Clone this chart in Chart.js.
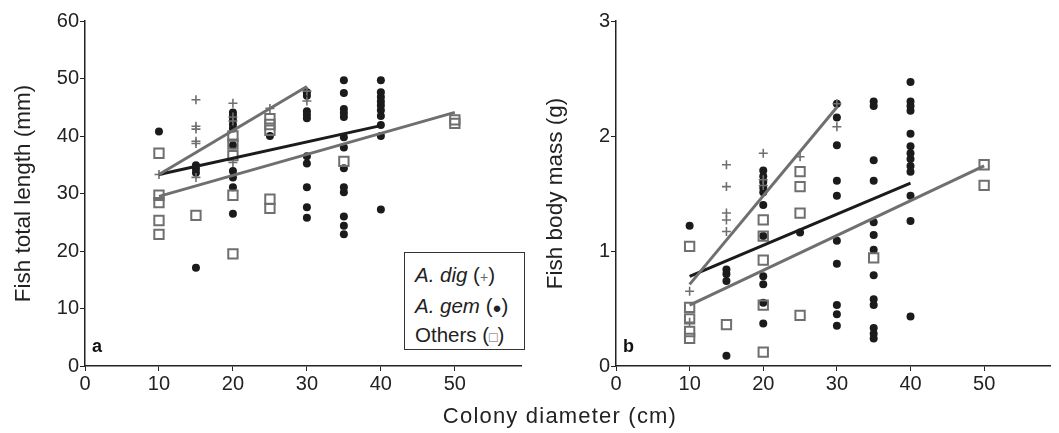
<!DOCTYPE html>
<html>
<head>
<meta charset="utf-8">
<script src="https://cdn.jsdelivr.net/npm/chart.js@4.4.1/dist/chart.umd.min.js"></script>
<style>
  body { margin: 0; background: #fff; font-family: "Liberation Sans", Arial, sans-serif; }
  #wrap { position: relative; width: 1059px; height: 433px; }
  #ca { position: absolute; left: 0; top: 0; }
  #cb { position: absolute; left: 530px; top: 0; }
  #xtitle { position: absolute; left: 360px; width: 400px; top: 403px; text-align: center; font-size: 22px; letter-spacing: 1.2px; color: #222; }
  #legend { position: absolute; left: 404px; top: 252px; width: 121px; height: 98px; border: 1px solid #333; background: #fff;
            font-size: 20.5px; color: #222; line-height: 27.5px; padding-top: 8px; box-sizing: border-box; padding-left: 10px; white-space: nowrap; }
  #legend .s { font-size: 14px; color: #666; }
</style>
</head>
<body>
<div id="wrap">
  <canvas id="ca" width="530" height="433"></canvas>
  <canvas id="cb" width="529" height="433"></canvas>
  <div id="xtitle">Colony diameter (cm)</div>
  <div id="legend">
    <div><i>A. dig</i> (<span class="s">+</span>)</div>
    <div><i>A. gem</i> (<span style="font-size:15px">●</span>)</div>
    <div>Others (<span class="s">□</span>)</div>
  </div>
</div>
<script>
// panel a: fish total length (mm)
const digLenX = [10, 15, 15, 15, 15, 15, 15, 20, 20, 20, 20, 25, 30, 30];
const digLenY = [33.3, 46.3, 41.7, 41.2, 39.1, 38.7, 32.8, 45.7, 43.3, 42.6, 35.4, 44.8, 47.8, 46.1];
const gemLenX = [10, 15, 15, 15, 15,
  20, 20, 20, 20, 20, 20, 20, 20, 20, 20, 25,
  30, 30, 30, 30, 30, 30, 30, 30, 30, 30,
  35, 35, 35, 35, 35, 35, 35, 35, 35, 35, 35, 35, 35,
  40, 40, 40, 40, 40, 40, 40, 40, 40, 40];
const gemLenY = [40.8, 34.9, 34.3, 33.6, 17.1,
  44.1, 43.5, 42.8, 42.0, 41.3, 38.4, 33.9, 32.8, 31.1, 26.5, 40.0,
  47.6, 47.0, 44.3, 43.7, 43.1, 36.5, 35.2, 31.1, 27.6, 25.8,
  49.7, 47.5, 44.7, 44.0, 43.3, 39.8, 38.0, 34.4, 31.1, 30.2, 26.0, 24.4, 22.9,
  49.7, 47.6, 46.8, 46.0, 45.3, 44.5, 43.5, 41.9, 40.0, 27.2];
const othLenX = [10, 10, 10, 10, 10, 15, 20, 20, 20, 20, 20, 25, 25, 25, 25, 25, 35, 50, 50];
const othLenY = [37.0, 29.7, 28.4, 25.3, 22.9, 26.2, 40.0, 38.6, 36.6, 29.7, 19.5, 43.0, 42.0, 41.0, 29.0, 27.4, 35.6, 42.8, 42.2];
const fitLenX = { dig: [10, 30], gem: [10, 40], oth: [10, 50] };
const fitLenY = { dig: [33.3, 48.6], gem: [33.3, 41.8], oth: [29.5, 44.1] };

// panel b: fish body mass (g)
const digMassX = [10, 10, 15, 15, 15, 15, 15, 20, 20, 20, 25, 30, 30];
const digMassY = [0.65, 0.38, 1.75, 1.56, 1.33, 1.27, 1.17, 1.85, 1.62, 1.57, 1.82, 2.28, 2.08];
const gemMassX = [10, 15, 15, 15, 15,
  20, 20, 20, 20, 20, 20, 20, 20, 20, 20, 20, 25,
  30, 30, 30, 30, 30, 30, 30, 30, 30, 30,
  35, 35, 35, 35, 35, 35, 35, 35, 35, 35, 35, 35, 35,
  40, 40, 40, 40, 40, 40, 40, 40, 40, 40, 40, 40, 40];
const gemMassY = [1.22, 0.84, 0.80, 0.74, 0.09,
  1.70, 1.65, 1.60, 1.55, 1.51, 1.40, 1.13, 0.78, 0.71, 0.55, 0.37, 1.16,
  2.28, 2.16, 1.92, 1.61, 1.48, 1.09, 0.89, 0.53, 0.45, 0.35,
  2.30, 2.26, 1.79, 1.61, 1.25, 1.14, 1.01, 0.79, 0.58, 0.53, 0.33, 0.28, 0.24,
  2.47, 2.30, 2.26, 2.22, 2.02, 1.91, 1.85, 1.80, 1.74, 1.69, 1.48, 1.26, 0.43];
const othMassX = [10, 10, 10, 10, 10, 15, 20, 20, 20, 20, 20, 25, 25, 25, 25, 35, 50, 50];
const othMassY = [1.04, 0.51, 0.41, 0.30, 0.24, 0.36, 1.27, 1.13, 0.92, 0.53, 0.12, 1.69, 1.56, 1.33, 0.44, 0.94, 1.75, 1.57];
const fitMassX = { dig: [10, 30], gem: [10, 40], oth: [10, 50] };
const fitMassY = { dig: [0.71, 2.25], gem: [0.78, 1.59], oth: [0.53, 1.74] };

const xTicks = [0, 10, 20, 30, 40, 50];
const GRAY = "#6f6f6f";
const BLACK = "#1b1b1d";
const FONT = "'Liberation Sans', Arial, sans-serif";

function pts(xs, ys) {
  return xs.map((x, i) => ({ x: x, y: ys[i] }));
}

function makeDatasets(dx, dy, gx, gy, ox, oy, fx, fy) {
  return [
    { label: "fit dig", type: "line", data: pts(fx.dig, fy.dig), borderColor: GRAY, borderWidth: 3, pointRadius: 0, order: 0 },
    { label: "fit gem", type: "line", data: pts(fx.gem, fy.gem), borderColor: BLACK, borderWidth: 3, pointRadius: 0, order: 0 },
    { label: "fit oth", type: "line", data: pts(fx.oth, fy.oth), borderColor: GRAY, borderWidth: 3, pointRadius: 0, order: 0 },
    { label: "A. gem", data: pts(gx, gy), pointStyle: "circle", pointRadius: 4, backgroundColor: BLACK, borderColor: BLACK, borderWidth: 0, order: 3 },
    { label: "Others", data: pts(ox, oy), pointStyle: "rect", pointRadius: 6.6, backgroundColor: "rgba(0,0,0,0)", borderColor: GRAY, borderWidth: 2, order: 2 },
    { label: "A. dig", data: pts(dx, dy), pointStyle: "cross", pointRadius: 4.5, borderColor: GRAY, borderWidth: 1.6, order: 1 }
  ];
}

const panelLabel = {
  id: "panelLabel",
  afterDraw(chart, args, opts) {
    const ctx = chart.ctx;
    ctx.save();
    ctx.font = "bold 18px " + FONT;
    ctx.fillStyle = "#111";
    ctx.textBaseline = "alphabetic";
    ctx.fillText(opts.text, chart.chartArea.left + 7, chart.chartArea.bottom - 14);
    ctx.restore();
  }
};

function makeChart(id, datasets, yMax, yStep, yTitle, yWidth, titlePad, label) {
  return new Chart(document.getElementById(id), {
    type: "scatter",
    data: { datasets: datasets },
    plugins: [panelLabel],
    options: {
      responsive: false,
      animation: false,
      layout: { padding: { top: 21, right: 3, left: 0, bottom: 0 } },
      plugins: { legend: { display: false }, tooltip: { enabled: false }, panelLabel: { text: label } },
      scales: {
        x: {
          type: "linear", min: 0, max: 59,
          afterBuildTicks: s => { s.ticks = xTicks.map(v => ({ value: v })); },
          afterFit: s => { s.height = 67; },
          grid: { display: true, drawOnChartArea: false, drawTicks: true, tickLength: 5, color: "#222" },
          border: { color: "#222", width: 1.5 },
          ticks: { color: "#222", font: { family: FONT, size: 20 }, padding: 1, maxRotation: 0 }
        },
        y: {
          type: "linear", min: 0, max: yMax,
          ticks: { stepSize: yStep, color: "#222", font: { family: FONT, size: 20 }, padding: 1 },
          afterFit: s => { s.width = yWidth; },
          grid: { display: true, drawOnChartArea: false, drawTicks: true, tickLength: 5, color: "#222" },
          border: { color: "#222", width: 1.5 },
          title: { display: true, text: yTitle, color: "#222", font: { family: FONT, size: 22.5 }, padding: { top: titlePad, bottom: 0 } }
        }
      }
    }
  });
}

makeChart("ca", makeDatasets(digLenX, digLenY, gemLenX, gemLenY, othLenX, othLenY, fitLenX, fitLenY),
  60, 10, "Fish total length (mm)", 85, 10, "a");
makeChart("cb", makeDatasets(digMassX, digMassY, gemMassX, gemMassY, othMassX, othMassY, fitMassX, fitMassY),
  3, 1, "Fish body mass (g)", 86, 12, "b");
</script>
</body>
</html>
